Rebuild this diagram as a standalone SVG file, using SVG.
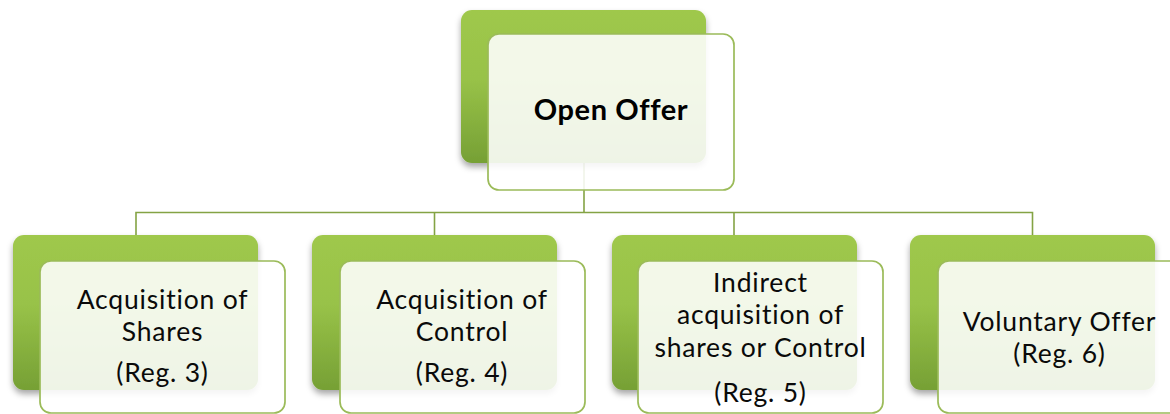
<svg xmlns="http://www.w3.org/2000/svg" width="1170" height="414" viewBox="0 0 1170 414">
  <defs>
    <linearGradient id="greenFill" x1="0" y1="0" x2="0" y2="1">
      <stop offset="0" stop-color="#9fc84c"/>
      <stop offset="0.45" stop-color="#98c248"/>
      <stop offset="1" stop-color="#76a035"/>
    </linearGradient>
    <filter id="shadow" x="-10%" y="-10%" width="120%" height="130%">
      <feDropShadow dx="0" dy="4" stdDeviation="3" flood-color="#000" flood-opacity="0.35"/>
    </filter>
  </defs>
  <style>
    .back { fill: url(#greenFill); filter: url(#shadow); }
    .front { fill: #ffffff; fill-opacity: 0.88; stroke: #9bbb59; stroke-width: 1.7; }
    .link { fill: none; stroke: #84a344; stroke-width: 1.6; }
    .label { font-family: Lato, "Open Sans", sans-serif; font-size: 26.5px; letter-spacing: 0.8px; fill: #0a0a0a; text-anchor: middle; }
    .title { font-family: Lato, "Open Sans", sans-serif; font-size: 29px; font-weight: bold; letter-spacing: 0.6px; fill: #000; text-anchor: middle; }
  </style>

  <rect width="1170" height="414" fill="#ffffff"/>

  <g id="connectors">
    <path class="link" d="M584 163 V212.5"/>
    <path class="link" d="M136 235 V212.5 H1032.5 V235"/>
    <path class="link" d="M434.5 212.5 V235"/>
    <path class="link" d="M734 212.5 V235"/>
  </g>

  <g id="open-offer">
    <rect class="back" x="461" y="10" width="245" height="153" rx="11"/>
    <rect class="front" x="488" y="34" width="246" height="156" rx="11"/>
    <text class="title" x="611" y="120">Open Offer</text>
  </g>

  <g id="acquisition-of-shares">
    <rect class="back" x="13" y="235" width="245" height="155" rx="11"/>
    <rect class="front" x="40" y="261" width="245" height="152" rx="11"/>
    <text class="label" x="162.5" y="309">Acquisition of<tspan x="162.5" dy="32">Shares</tspan><tspan x="162.5" dy="41">(Reg. 3)</tspan></text>
  </g>

  <g id="acquisition-of-control">
    <rect class="back" x="312" y="235" width="245" height="155" rx="11"/>
    <rect class="front" x="340" y="261" width="245" height="152" rx="11"/>
    <text class="label" x="462" y="309">Acquisition of<tspan x="462" dy="32">Control</tspan><tspan x="462" dy="41">(Reg. 4)</tspan></text>
  </g>

  <g id="indirect-acquisition">
    <rect class="back" x="612" y="235" width="245" height="155" rx="11"/>
    <rect class="front" x="638" y="261" width="245" height="152" rx="11"/>
    <text class="label" x="760.5" y="292">Indirect<tspan x="760.5" dy="32">acquisition of</tspan><tspan x="760.5" dy="32.5">shares or Control</tspan><tspan x="760.5" dy="45.5">(Reg. 5)</tspan></text>
  </g>

  <g id="voluntary-offer">
    <rect class="back" x="910" y="235" width="245" height="155" rx="11"/>
    <rect class="front" x="938" y="261" width="245" height="152" rx="11"/>
    <text class="label" x="1059.5" y="330.5">Voluntary Offer<tspan x="1059.5" dy="32">(Reg. 6)</tspan></text>
  </g>
</svg>
